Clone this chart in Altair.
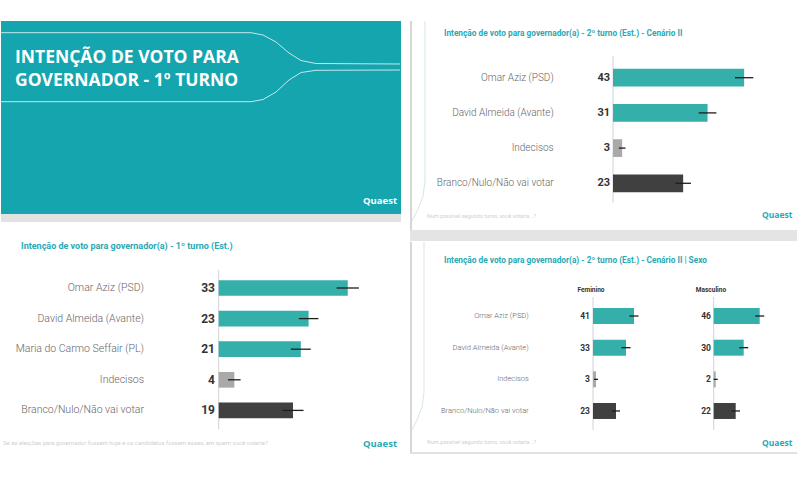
import altair as alt
import pandas as pd

# ---------------- data ----------------
# 1º turno (estimulada)
t1_cats = ["Omar Aziz (PSD)", "David Almeida (Avante)", "Maria do Carmo Seffair (PL)",
           "Indecisos", "Branco/Nulo/Não vai votar"]
t1_vals = [33, 23, 21, 4, 19]
t1_err = [2.85, 2.5, 2.55, 1.6, 2.7]
t1_grp = ["cand", "cand", "cand", "indec", "branco"]

# 2º turno - Cenário II
t2_cats = ["Omar Aziz (PSD)", "David Almeida (Avante)", "Indecisos", "Branco/Nulo/Não vai votar"]
t2_vals = [43, 31, 3, 23]
t2_err = [3.0, 2.9, 1.1, 2.55]
t2_grp = ["cand", "cand", "indec", "branco"]

# 2º turno - Cenário II | Sexo
sexo_groups = ["Feminino", "Masculino"]
fem_vals = [41, 33, 3, 23]
fem_err = [4.5, 4.5, 2.0, 4.0]
masc_vals = [46, 30, 2, 22]
masc_err = [4.5, 4.5, 2.0, 4.3]

titulo_slide = ["INTENÇÃO DE VOTO PARA", "GOVERNADOR - 1º TURNO"]
titulo_t1 = "Intenção de voto para governador(a) - 1º turno (Est.)"
titulo_t2 = "Intenção de voto para governador(a) - 2º turno (Est.) - Cenário II"
titulo_sexo = "Intenção de voto para governador(a) - 2º turno (Est.) - Cenário II | Sexo"
nota_t1 = "Se as eleições para governador fossem hoje e os candidatos fossem esses, em quem você votaria?"
nota_t2 = "Num possível segundo turno, você votaria...?"
logo = "Quaest"

# ---------------- styles ----------------
FONT = "Roboto"
TEAL_BG = "#14A5AF"
TEAL_TXT = "#2AA9B4"
TEAL_BAR = "#34AFAA"
LABEL_C = "#666666"
NOTE_C = "#cfcfcf"
colscale = alt.Scale(domain=["cand", "indec", "branco"], range=[TEAL_BAR, "#A9A9A9", "#404040"])

one = pd.DataFrame({"k": [0]})


def frame(cats, vals, errs, grps):
    return pd.DataFrame({
        "cat": cats, "v": vals,
        "lo": [v - e for v, e in zip(vals, errs)],
        "hi": [v + e for v, e in zip(vals, errs)],
        "grp": grps,
    })


def txt(s, x, y, size, color, weight="normal", align="left", font=FONT):
    return alt.Chart(one).mark_text(text=s, align=align, baseline="middle", fontSize=size,
                                    color=color, fontWeight=weight, font=font).encode(
        x=alt.value(x), y=alt.value(y))


def seg(x1, y1, x2, y2, color, width=1.0, opacity=1.0):
    return alt.Chart(one).mark_rule(color=color, strokeWidth=width, opacity=opacity).encode(
        x=alt.value(x1), y=alt.value(y1), x2=alt.value(x2), y2=alt.value(y2))


def polyline(pts, color, width=1.0, opacity=1.0):
    return [seg(a[0], a[1], b[0], b[1], color, width, opacity) for a, b in zip(pts[:-1], pts[1:])]


def rect(x1, y1, x2, y2, color):
    return alt.Chart(one).mark_rect(color=color).encode(
        x=alt.value(x1), x2=alt.value(x2), y=alt.value(y1), y2=alt.value(y2))


def bar_group(df, cats, x_rng, x_max, y_rng, p_in, val_x, val_size, axis_y,
              lab_x=None, lab_size=10):
    xs = alt.Scale(domain=[0, x_max], range=x_rng)
    ys = alt.Scale(domain=cats, range=y_rng, paddingInner=p_in, paddingOuter=p_in / 2)
    y = alt.Y("cat:N", scale=ys, axis=None)
    base = alt.Chart(df)
    axis = alt.Chart(one).mark_rule(color="#d2d2d2", strokeWidth=1).encode(
        x=alt.X(datum=0, scale=xs, axis=None), y=alt.value(axis_y[0]), y2=alt.value(axis_y[1]))
    bars = base.mark_bar().encode(
        x=alt.X("v:Q", scale=xs, axis=None), y=y,
        color=alt.Color("grp:N", scale=colscale, legend=None))
    err = base.mark_rule(color="#1e1e1e", strokeWidth=1.3).encode(
        x=alt.X("lo:Q", scale=xs, axis=None), x2="hi:Q", y=y)
    vals = base.mark_text(align="right", baseline="middle", fontWeight="bold", fontSize=val_size,
                          color="#333333", font=FONT).encode(x=alt.value(val_x), y=y, text="v:Q")
    layers = [axis, bars, err, vals]
    if lab_x is not None:
        labels = base.mark_text(align="right", baseline="middle", fontSize=lab_size,
                                color=LABEL_C, font=FONT, fontWeight=300).encode(
            x=alt.value(lab_x), y=y, text="cat:N")
        layers.append(labels)
    return layers


# ---------------- panel A : teal title slide ----------------
pa = [rect(0, 0, 400, 193, TEAL_BG), rect(0, 193, 400, 201, "#e2e2e2")]
pa += polyline([(0, 11.7), (250, 11.7), (262, 14), (275, 21), (288, 32), (300, 39.5),
                (315, 42.5), (399, 43)], "#ffffff", 1.0, 0.75)
pa += polyline([(0, 80.7), (250, 80.7), (262, 78.5), (275, 71), (288, 59), (300, 51.5),
                (315, 49.3), (399, 49)], "#ffffff", 1.0, 0.75)
pa += [txt(titulo_slide[0], 14, 37, 17.5, "white", "bold", font="Open Sans"),
       txt(titulo_slide[1], 14, 60, 17.5, "white", "bold", font="Open Sans"),
       txt(logo, 362, 180, 9.5, "white", "bold", font="Open Sans")]
panel_a = alt.layer(*pa).properties(width=400, height=200)

# ---------------- panel B : 1º turno ----------------
df1 = frame(t1_cats, t1_vals, t1_err, t1_grp)
pb = [txt(titulo_t1, 20, 24, 9, TEAL_TXT, "bold")]
pb += bar_group(df1, t1_cats, [217.7, 374.1], 40, [50.7, 203.7], 0.487, 214, 12, (48, 207),
                lab_x=143, lab_size=10.5)
pb += [txt(nota_t1, 2, 221, 6, NOTE_C),
       txt(logo, 362, 221.5, 9.5, TEAL_TXT, "bold", font="Open Sans")]
panel_b = alt.layer(*pb).properties(width=400, height=235)

# ---------------- panel C : 2º turno cenário II ----------------
df2 = frame(t2_cats, t2_vals, t2_err, t2_grp)
pc = [seg(1, 0, 1, 209, "#d6d6d6", 2)]
pc += polyline([(15, 0), (15, 160), (13, 175), (8, 188), (2, 200)], "#d5e6e8", 1)
pc += [rect(0, 209, 387, 220, "#e4e4e4"),
       txt(titulo_t2, 34, 13.3, 8.3, TEAL_TXT, "bold")]
pc += bar_group(df2, t2_cats, [203, 355.5], 50, [39.1, 179.9], 0.497, 200, 11, (35, 181.7),
                lab_x=143.7, lab_size=10)
pc += [txt(nota_t2, 17, 195, 5.5, NOTE_C),
       txt(logo, 352, 194, 8.5, TEAL_TXT, "bold", font="Open Sans")]
panel_c = alt.layer(*pc).properties(width=387, height=220)

# ---------------- panel D : 2º turno por sexo ----------------
dff = frame(t2_cats, fem_vals, fem_err, t2_grp)
dfm = frame(t2_cats, masc_vals, masc_err, t2_grp)
pd_ = [seg(1, 0, 1, 212, "#d6d6d6", 2), seg(0, 211, 387, 211, "#e2e2e2", 2)]
pd_ += polyline([(14, 0), (14, 150), (12, 165), (7, 178), (2, 188)], "#d5e6e8", 1)
pd_ += [txt(titulo_sexo, 34, 18.5, 8.3, TEAL_TXT, "bold"),
        txt(sexo_groups[0], 181, 47.5, 6.5, "#333333", "bold", align="center"),
        txt(sexo_groups[1], 301, 47.5, 6.5, "#333333", "bold", align="center")]
pd_ += bar_group(dff, t2_cats, [183, 233], 50, [58.2, 184.8], 0.495, 180, 8.5, (55, 188),
                 lab_x=118.7, lab_size=7.5)
pd_ += bar_group(dfm, t2_cats, [303.7, 353.7], 50, [58.2, 184.8], 0.495, 301, 8.5, (55, 188))
pd_ += [txt(nota_t2, 17, 200, 5.5, NOTE_C),
        txt(logo, 352, 201, 8.5, TEAL_TXT, "bold", font="Open Sans")]
panel_d = alt.layer(*pd_).resolve_scale(x="independent").properties(width=387, height=215)

left = alt.vconcat(panel_a, panel_b, spacing=0)
right = alt.vconcat(panel_c, panel_d, spacing=0)
chart = alt.hconcat(left, right, spacing=8).properties(
    padding={"left": 0, "top": 20, "right": 0, "bottom": 0},
    background="white",
).configure_view(stroke=None)

chart.save("out.html", embed_options={"renderer": "svg", "actions": False})
